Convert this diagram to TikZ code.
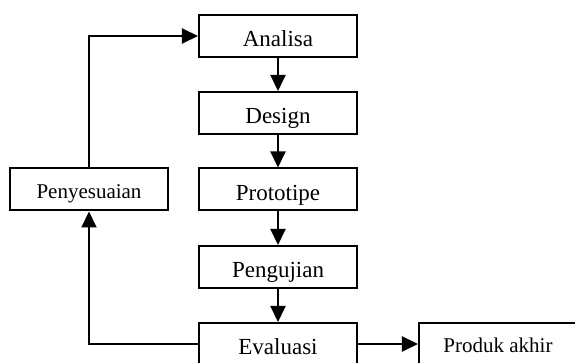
\documentclass[tikz,border=0pt]{standalone}
\usepackage{fontspec}
\setmainfont{Liberation Serif}
\usetikzlibrary{arrows.meta}

\begin{document}
\begin{tikzpicture}[x=0.5pt,y=-0.5pt,>={Triangle[length=8pt,width=7.5pt]},
  box/.style={draw,line width=1pt,minimum width=79pt,minimum height=21pt,
    inner sep=0pt,text height=11pt,text depth=0pt,
    font=\fontsize{11.5}{13}\selectfont},
  smallbox/.style={box,text height=9pt,font=\fontsize{10.5}{12}\selectfont},
  flow/.style={->,line width=1pt}]
\clip (0,0) rectangle (575,363);
\node[box] (analisa) at (278,36) {Analisa};
\node[box] (design) at (278,113) {Design};
\node[box] (prototipe) at (278,189.5) {Prototipe};
\node[box] (pengujian) at (278,267) {Pengujian};
\node[box] (evaluasi) at (278,344) {Evaluasi};
\node[smallbox] (produk) at (498,344) {Produk akhir};
\node[smallbox] (penyesuaian) at (89,189.5) {Penyesuaian};
% alur utama
\draw[flow] (analisa) -- (design);
\draw[flow] (design) -- (prototipe);
\draw[flow] (prototipe) -- (pengujian);
\draw[flow] (pengujian) -- (evaluasi);
\draw[flow] (evaluasi) -- (produk);
% umpan balik
\draw[flow] (evaluasi.west) -| (penyesuaian.south);
\draw[flow] (penyesuaian.north) |- (analisa.west);
\end{tikzpicture}
\end{document}
